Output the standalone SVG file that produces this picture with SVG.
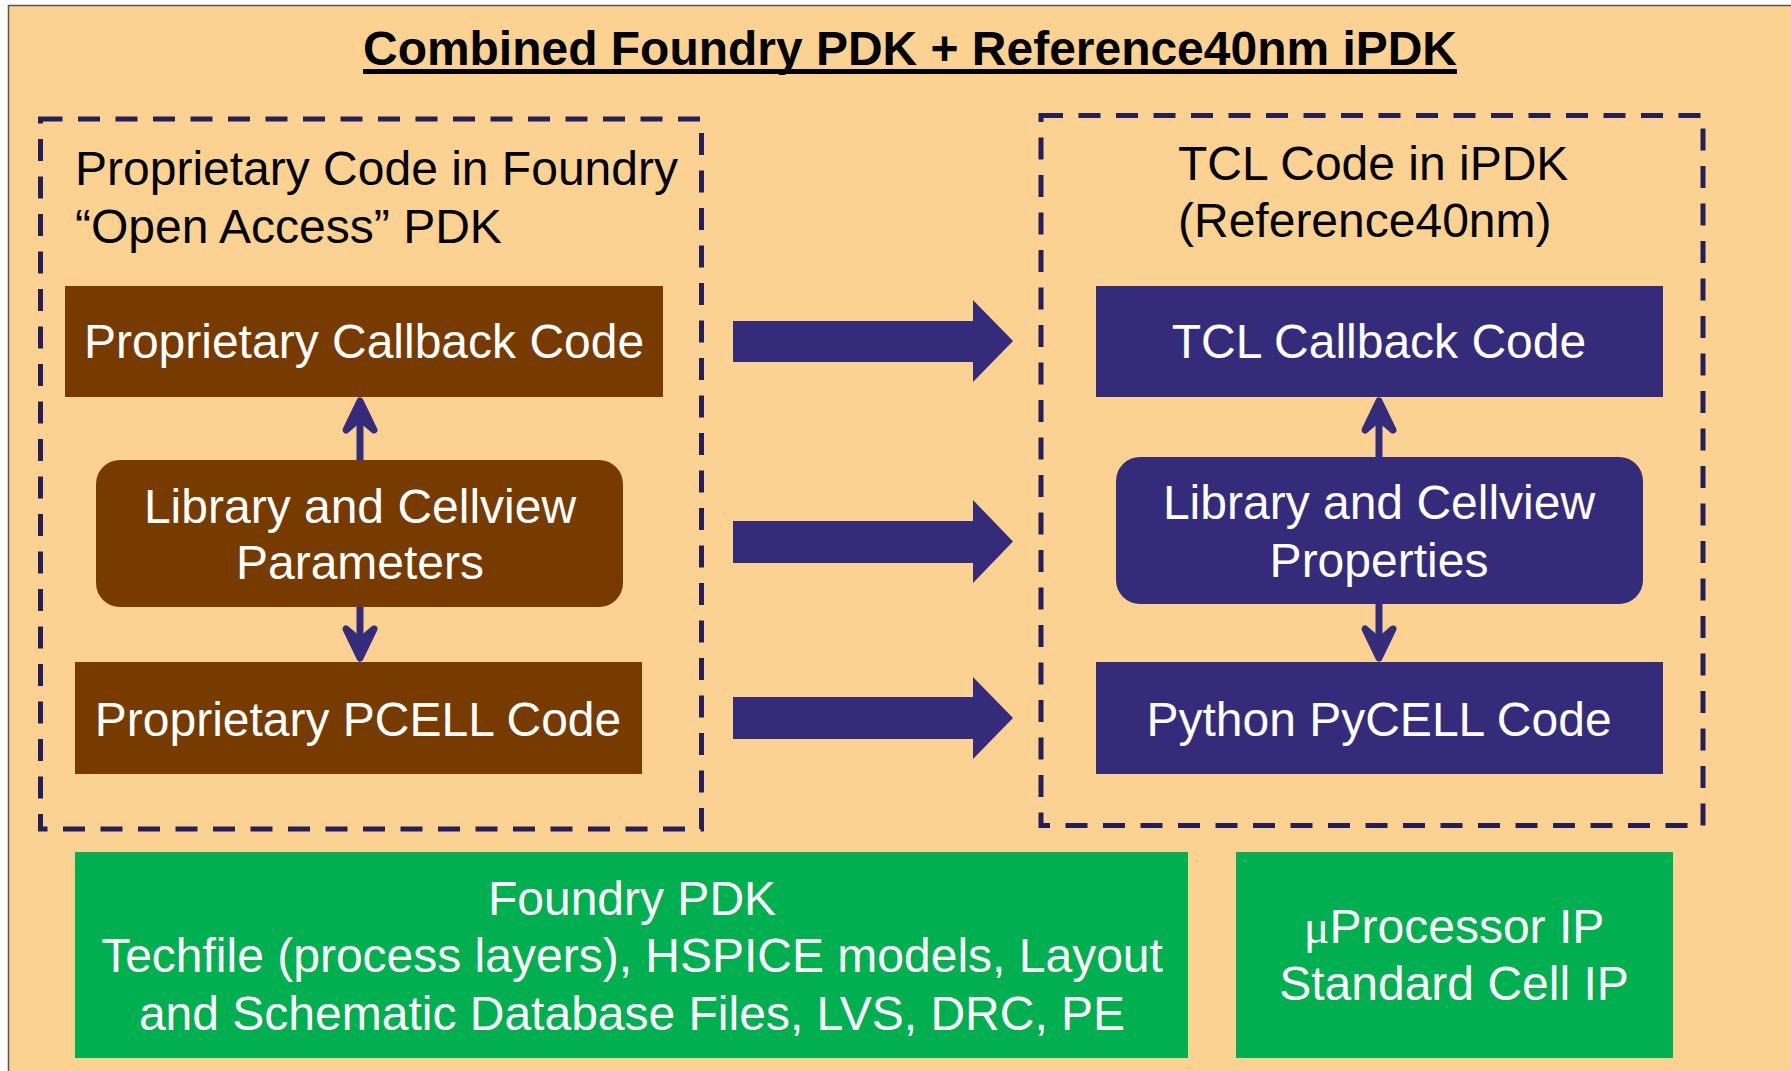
<svg xmlns="http://www.w3.org/2000/svg" width="1791" height="1071" viewBox="0 0 1791 1071">
<style>
.t{font-family:"Liberation Sans",Arial,Helvetica,sans-serif;font-size:48px}
.w{fill:#ffffff}
.k{fill:#000000}
.c{text-anchor:middle}
.dash{fill:none;stroke:#241E5A;stroke-width:5;stroke-dasharray:22 15.5}
.brown{fill:#773B00}
.ind{fill:#352B7B}
.green{fill:#00AF50}
.sh{stroke:#352B7B;stroke-width:7;fill:none;stroke-linecap:butt}
.hd{stroke:#352B7B;stroke-width:7;fill:#352B7B;stroke-linecap:round;stroke-linejoin:round}
</style>
<rect x="0" y="0" width="1791" height="1071" fill="#ffffff"/>
<rect x="8.5" y="5.5" width="1800" height="1100" fill="#FBD291" stroke="#555555" stroke-width="1.5"/>

<g id="title">
<text x="910" y="65" class="t c k" style="font-size:48px;font-weight:bold" textLength="1094" lengthAdjust="spacingAndGlyphs">Combined Foundry PDK + Reference40nm iPDK</text>
<rect x="363" y="69" width="1094" height="5" fill="#000000"/>
</g>

<g id="foundry-group">
<rect x="40.5" y="119" width="661" height="710" class="dash"/>
<text x="75" y="185" class="t k">Proprietary Code in Foundry</text>
<text x="75" y="243" class="t k">“Open Access” PDK</text>
</g>

<g id="ipdk-group">
<rect x="1041" y="115.5" width="662" height="710" class="dash"/>
<text x="1178" y="180" class="t k">TCL Code in iPDK</text>
<text x="1178" y="237" class="t k">(Reference40nm)</text>
</g>

<g id="prop-callback">
<rect x="65" y="286" width="598" height="111" class="brown"/>
<text x="364" y="358" class="t c w">Proprietary Callback Code</text>
</g>

<g id="lib-params">
<rect x="96" y="460" width="527" height="147" rx="24" class="brown"/>
<text x="360" y="523" class="t c w">Library and Cellview</text>
<text x="360" y="579" class="t c w">Parameters</text>
</g>

<g id="prop-pcell">
<rect x="75" y="662" width="567" height="112" class="brown"/>
<text x="358" y="736" class="t c w">Proprietary PCELL Code</text>
</g>

<g id="tcl-callback">
<rect x="1096" y="286" width="567" height="111" class="ind"/>
<text x="1379" y="358" class="t c w">TCL Callback Code</text>
</g>

<g id="lib-props">
<rect x="1116" y="457" width="527" height="147" rx="24" class="ind"/>
<text x="1379" y="519" class="t c w">Library and Cellview</text>
<text x="1379" y="577" class="t c w">Properties</text>
</g>

<g id="python-pycell">
<rect x="1096" y="662" width="567" height="112" class="ind"/>
<text x="1379" y="736" class="t c w">Python PyCELL Code</text>
</g>

<g id="foundry-pdk">
<rect x="75" y="852" width="1113" height="206" class="green"/>
<text x="632" y="915" class="t c w">Foundry PDK</text>
<text x="632" y="972" class="t c w">Techfile (process layers), HSPICE models, Layout</text>
<text x="632" y="1030" class="t c w">and Schematic Database Files, LVS, DRC, PE</text>
</g>

<g id="ip">
<rect x="1236" y="852" width="437" height="206" class="green"/>
<text x="1454" y="943" class="t c w"><tspan style="font-family:'Liberation Serif',serif">μ</tspan>Processor IP</text>
<text x="1454" y="1000" class="t c w">Standard Cell IP</text>
</g>

<g id="connectors">
<polygon points="733,321 973,321 973,300 1013,341 973,382 973,362 733,362" fill="#352B7B"/>
<polygon points="733,521 973,521 973,500 1013,541.5 973,583 973,563 733,563" fill="#352B7B"/>
<polygon points="733,697 973,697 973,677 1013,718 973,759 973,739 733,739" fill="#352B7B"/>

<line x1="360" y1="460" x2="360" y2="410" class="sh"/>
<path d="M346,430 L360,401 L374,430 L360,418 Z" class="hd"/>
<line x1="360" y1="607" x2="360" y2="650" class="sh"/>
<path d="M346,629 L360,658 L374,629 L360,641 Z" class="hd"/>

<line x1="1379" y1="457" x2="1379" y2="410" class="sh"/>
<path d="M1365,430 L1379,401 L1393,430 L1379,418 Z" class="hd"/>
<line x1="1379" y1="604" x2="1379" y2="650" class="sh"/>
<path d="M1365,629 L1379,658 L1393,629 L1379,641 Z" class="hd"/>
</g>
</svg>
